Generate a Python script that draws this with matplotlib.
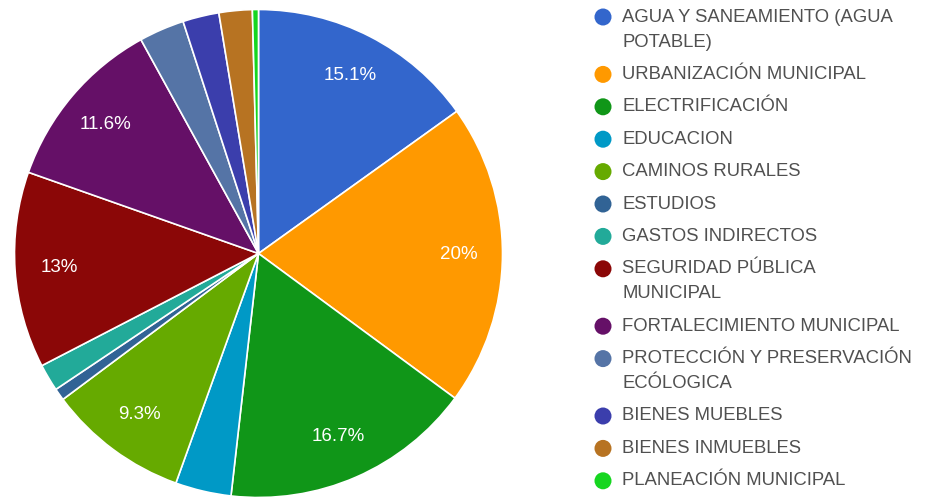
import matplotlib
matplotlib.use("Agg")
import matplotlib.pyplot as plt

plt.rcParams["font.family"] = ["Liberation Sans", "DejaVu Sans"]

labels = [
    "AGUA Y SANEAMIENTO (AGUA\nPOTABLE)",
    "URBANIZACIÓN MUNICIPAL",
    "ELECTRIFICACIÓN",
    "EDUCACION",
    "CAMINOS RURALES",
    "ESTUDIOS",
    "GASTOS INDIRECTOS",
    "SEGURIDAD PÚBLICA\nMUNICIPAL",
    "FORTALECIMIENTO MUNICIPAL",
    "PROTECCIÓN Y PRESERVACIÓN\nECÓLOGICA",
    "BIENES MUEBLES",
    "BIENES INMUEBLES",
    "PLANEACIÓN MUNICIPAL",
]
values = [15.1, 20.0, 16.7, 3.7, 9.3, 0.8, 1.8, 13.0, 11.6, 3.0, 2.4, 2.2, 0.4]
colors = ["#3366cc", "#ff9900", "#109618", "#0099c6", "#66aa00", "#316395",
          "#22aa99", "#8b0707", "#651067", "#5574a6", "#3b3eac", "#b77322",
          "#16d620"]

W, H = 940, 499
fig = plt.figure(figsize=(9.4, 4.99), dpi=100)

# pie
cx, cy, r = 258.5, 253.5, 244
ax = fig.add_axes([(cx - r) / W, (H - cy - r) / H, 2 * r / W, 2 * r / H])


def fmt(p):
    if p < 5:
        return ""
    s = f"{p:.1f}"
    if s.endswith(".0"):
        s = s[:-2]
    return s + "%"


wedges, texts, autotexts = ax.pie(
    values, colors=colors, startangle=90, counterclock=False,
    autopct=fmt, pctdistance=0.82,
    wedgeprops=dict(edgecolor="white", linewidth=1.2),
    textprops=dict(color="white", fontsize=13.5),
)
ax.set_xlim(-1, 1)
ax.set_ylim(-1, 1)
ax.set_aspect("equal")

# legend drawn by hand in pixel coordinates
lax = fig.add_axes([0, 0, 1, 1])
lax.set_xlim(0, W)
lax.set_ylim(H, 0)
lax.axis("off")

y = 17
for lab, col in zip(labels, colors):
    lax.scatter([603], [y], s=150, color=col, edgecolors="none")
    for i, line in enumerate(lab.split("\n")):
        lax.text(622, y + 25 * i, line, fontsize=13.3, color="#505050",
                 va="center", ha="left")
    y += 32.4 + 25 * lab.count("\n")

fig.savefig("out.png", dpi=100)
